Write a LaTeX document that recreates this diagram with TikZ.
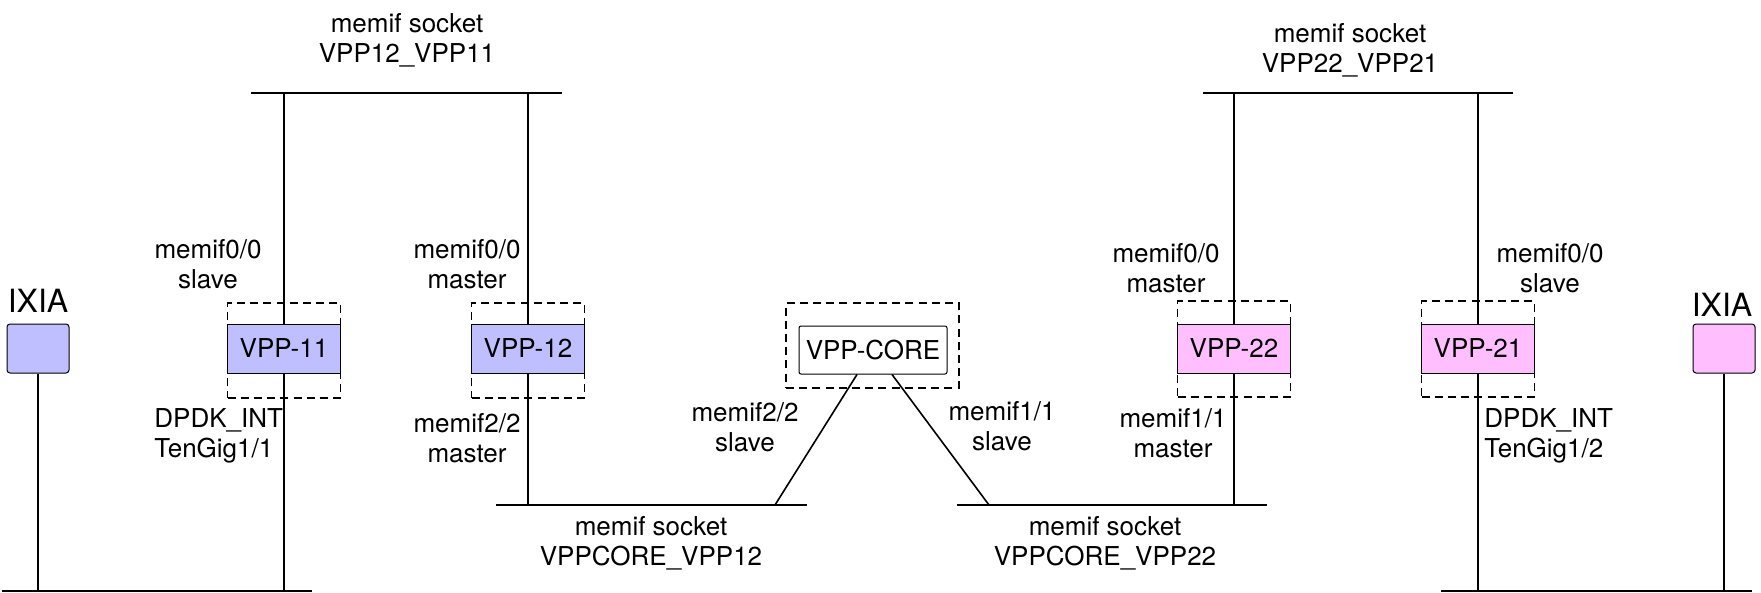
\documentclass[tikz,border=0pt]{standalone}
\usepackage{fontspec}
\setmainfont{TeX Gyre Heros}
\definecolor{lav}{RGB}{191,191,255}
\definecolor{pnk}{RGB}{255,191,255}
\begin{document}
\begin{tikzpicture}[x=0.5pt,y=-0.5pt,
  every node/.style={font=\fontsize{13}{15}\selectfont},
  wire/.style={line width=0.8pt},
  bus/.style={line width=0.8pt},
  thickbus/.style={line width=1.1pt},
  vbox/.style={draw, line width=0.5pt, inner sep=0pt, minimum width=56.5pt, minimum height=24.5pt},
  dbox/.style={draw, dashed, dash pattern=on 4pt off 2.6pt, line width=0.75pt, inner sep=0pt},
  ixbox/.style={draw, line width=0.5pt, rounded corners=1.5pt, inner sep=0pt, minimum width=31pt, minimum height=24.5pt},
  lbl/.style={align=center, inner sep=0pt},
  lbll/.style={align=left, inner sep=0pt, anchor=west}
]
\useasboundingbox (0,0) rectangle (1761,593);

% dashed frames
\node[dbox, minimum width=56.5pt, minimum height=47.5pt] (d11) at (284,350.5) {};
\node[dbox, minimum width=56.5pt, minimum height=47.5pt] (d12) at (528,350.5) {};
\node[dbox, minimum width=86.5pt, minimum height=42.5pt] (dc) at (872.5,345.5) {};
\node[dbox, minimum width=56.5pt, minimum height=48pt] (d22) at (1234,349) {};
\node[dbox, minimum width=56.5pt, minimum height=48pt] (d21) at (1478,349) {};

% boxes
\node[vbox, fill=lav] (v11) at (284,348.5) {VPP-11};
\node[vbox, fill=lav] (v12) at (528,348.5) {VPP-12};
\node[vbox, rounded corners=1pt, minimum width=74pt, minimum height=24pt, fill=white] (core) at (873,350) {VPP-CORE};
\node[vbox, fill=pnk] (v22) at (1234,348.5) {VPP-22};
\node[vbox, fill=pnk] (v21) at (1478,348.5) {VPP-21};
\node[ixbox, fill=lav] (ixl) at (38,348.5) {};
\node[ixbox, fill=pnk] (ixr) at (1724,348.5) {};

% bus coordinates
\coordinate (t1a) at (251,93);  \coordinate (t1b) at (562,93);
\coordinate (t2a) at (1203,93); \coordinate (t2b) at (1513,93);
\coordinate (m1a) at (496,505); \coordinate (m1b) at (807,505);
\coordinate (m2a) at (957,505); \coordinate (m2b) at (1267,505);
\coordinate (b1a) at (2,591);   \coordinate (b1b) at (312,591);
\coordinate (b2a) at (1441,591);\coordinate (b2b) at (1752,591);
\coordinate (cj1) at (775,505); \coordinate (cj2) at (989,505);

\draw[bus] (t1a) -- (t1b);
\draw[bus] (t2a) -- (t2b);
\draw[bus] (m1a) -- (m1b);
\draw[bus] (m2a) -- (m2b);
\draw[thickbus] (b1a) -- (b1b);
\draw[thickbus] (b2a) -- (b2b);

% vertical connectors
\draw[wire] (v11.north) -- (v11.north |- t1a);
\draw[wire] (v11.south) -- (v11.south |- b1a);
\draw[wire] (v12.north) -- (v12.north |- t1a);
\draw[wire] (v12.south) -- (v12.south |- m1a);
\draw[wire] (v22.north) -- (v22.north |- t2a);
\draw[wire] (v22.south) -- (v22.south |- m2a);
\draw[wire] (v21.north) -- (v21.north |- t2a);
\draw[wire] (v21.south) -- (v21.south |- b2a);
\draw[wire] (ixl.south) -- (ixl.south |- b1a);
\draw[wire] (ixr.south) -- (ixr.south |- b2a);
\draw[wire] ([xshift=-8pt]core.south) -- (cj1);
\draw[wire] ([xshift=9.5pt]core.south) -- (cj2);

% labels
\node[lbl] (s1) at (407,40) {memif socket\\VPP12\_VPP11};
\node[lbl] (s2) at (1350,50) {memif socket\\VPP22\_VPP21};
\node[lbl] (s3) at (651,543) {memif socket\\VPPCORE\_VPP12};
\node[lbl] (s4) at (1105,543) {memif socket\\VPPCORE\_VPP22};
\node[lbl] (l1) at (208,264) {memif0/0\\slave};
\node[lbl] (l2) at (467,264) {memif0/0\\master};
\node[lbll] (l3) at (154,436) {DPDK\_INT\\TenGig1/1};
\node[lbl] (l4) at (467,438) {memif2/2\\master};
\node[lbl] (l5) at (745,427) {memif2/2\\slave};
\node[lbl] (l6) at (1002,426) {memif1/1\\slave};
\node[lbl] (l7) at (1173,433) {memif1/1\\master};
\node[lbl] (l8) at (1166,268) {memif0/0\\master};
\node[lbl] (l9) at (1550,268) {memif0/0\\slave};
\node[lbll] (l10) at (1484,436) {DPDK\_INT\\TenGig1/2};
\node[inner sep=0pt, font=\fontsize{16}{18}\selectfont] (ixlt) at (38,301) {IXIA};
\node[inner sep=0pt, font=\fontsize{16}{18}\selectfont] (ixrt) at (1722,305) {IXIA};
\end{tikzpicture}
\end{document}
